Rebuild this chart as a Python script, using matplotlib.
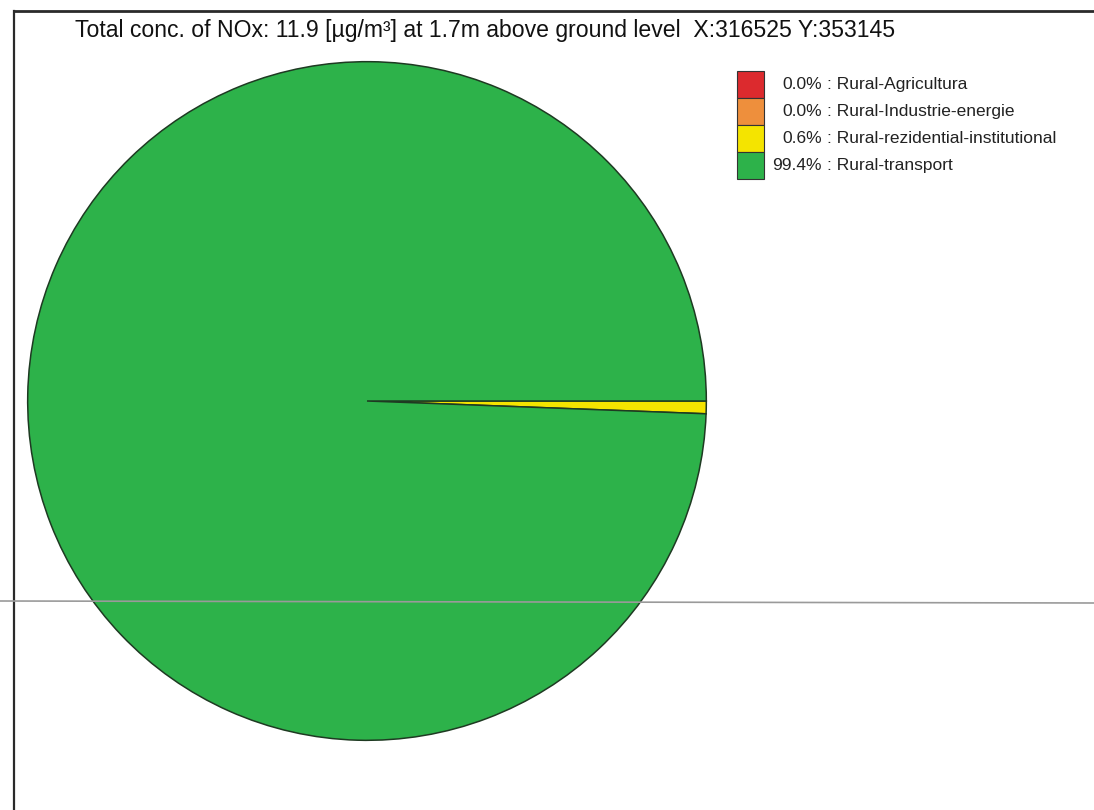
import matplotlib
matplotlib.use("Agg")
import matplotlib.pyplot as plt
from matplotlib.patches import Rectangle
from matplotlib.lines import Line2D

plt.rcParams['font.family'] = ['Liberation Sans', 'DejaVu Sans']

# ---- data ----
categories = ["Rural-Agricultura", "Rural-Industrie-energie",
              "Rural-rezidential-institutional", "Rural-transport"]
shares = [0.0, 0.0, 0.6, 99.4]
colors = ["#dc2a2e", "#ee8f3c", "#f4e400", "#2db24a"]
title = "Total conc. of NOx: 11.9 [µg/m³] at 1.7m above ground level  X:316525 Y:353145"

W, H = 1094, 810
fig = plt.figure(figsize=(W / 100, H / 100), dpi=100)
fig.patch.set_facecolor("white")

def fx(px):
    return px / W

def fy(py):
    return 1 - py / H

# pie axes: centre (367, 401), radius 340 px
cx, cy, r = 367, 401, 340
ax = fig.add_axes([fx(cx - r), fy(cy + r), 2 * r / W, 2 * r / H])
ax.pie(shares, colors=colors, startangle=0, counterclock=False, radius=1,
       wedgeprops=dict(edgecolor="#1e3a22", linewidth=1.1))
ax.set_xlim(-1.002, 1.002)
ax.set_ylim(-1.002, 1.002)
ax.set_aspect("equal")
ax.axis("off")

# frame lines
fig.add_artist(Line2D([fx(14), 1], [fy(11), fy(11)], transform=fig.transFigure,
                      color="#2a2a2a", lw=2.0))
fig.add_artist(Line2D([fx(14), fx(14)], [fy(11), 0], transform=fig.transFigure,
                      color="#2a2a2a", lw=1.6))
fig.add_artist(Line2D([0, 1], [fy(601), fy(603)], transform=fig.transFigure,
                      color="#9a9a9a", lw=1.2))

# title
fig.text(fx(75), fy(31), title, fontsize=16.6, color="#111111",
         ha="left", va="center")

# legend (manual, stacked boxes)
box_x, box_w, box_top, box_h = 737, 27, 71, 27
for i, (cat, s, c) in enumerate(zip(categories, shares, colors)):
    top = box_top + i * box_h
    fig.add_artist(Rectangle((fx(box_x), fy(top + box_h)), box_w / W, box_h / H,
                             transform=fig.transFigure, facecolor=c,
                             edgecolor="#333333", lw=0.8))
    yc = fy(top + box_h / 2)
    fig.text(fx(822), yc, f"{s:.1f}%", fontsize=12.5, color="#222222",
             ha="right", va="center")
    fig.text(fx(827), yc, f": {cat}", fontsize=12.5, color="#222222",
             ha="left", va="center")

fig.savefig("out.png", dpi=100, facecolor="white")
